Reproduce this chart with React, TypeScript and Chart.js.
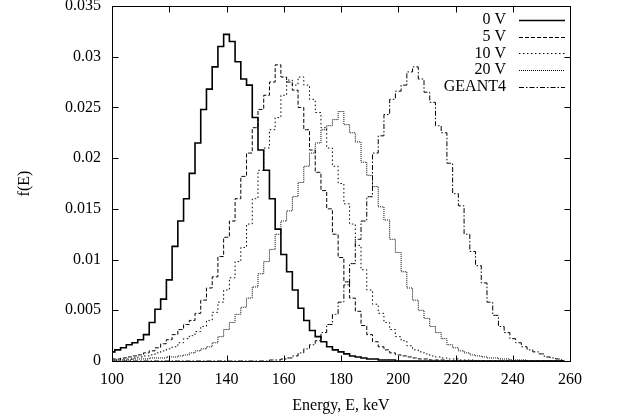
import React, { useEffect, useRef } from "react";
import { Chart, registerables } from "chart.js";
Chart.register(...registerables);

const energy = [
  100, 102, 104, 106, 108, 110, 112, 114, 116, 118, 120, 122, 124, 126, 128, 130, 132, 134, 136, 138,
  140, 142, 144, 146, 148, 150, 152, 154, 156, 158, 160, 162, 164, 166, 168, 170, 172, 174, 176, 178,
  180, 182, 184, 186, 188, 190, 192, 194, 196, 198, 200, 202, 204, 206, 208, 210, 212, 214, 216, 218,
  220, 222, 224, 226, 228, 230, 232, 234, 236, 238, 240, 242, 244, 246, 248, 250, 252, 254, 256, 258,
];

const v0 = [
  0.0009, 0.0011, 0.0013, 0.0016, 0.0018, 0.0021, 0.0026, 0.0038, 0.0051, 0.0061,
  0.0080, 0.0113, 0.0138, 0.0160, 0.0185, 0.0215, 0.0248, 0.0268, 0.0290, 0.0310,
  0.0322, 0.0315, 0.0295, 0.0278, 0.0272, 0.0240, 0.0208, 0.0188, 0.0160, 0.0130,
  0.0105, 0.0088, 0.0070, 0.0052, 0.0040, 0.0030, 0.0024, 0.0019, 0.0014, 0.0011,
  0.0009, 0.0007, 0.0005, 0.0004, 0.0003, 0.0002, 0.0002, 0.0001, 0.0001, 0.0001,
  0, 0, 0, 0, 0, 0, 0, 0, 0, 0,
  0, 0, 0, 0, 0, 0, 0, 0, 0, 0,
  0, 0, 0, 0, 0, 0, 0, 0, 0, 0,
];

const v5 = [
  0.0002, 0.0002, 0.0003, 0.0004, 0.0005, 0.0006, 0.0008, 0.0010, 0.0013, 0.0017,
  0.0021, 0.0026, 0.0031, 0.0036, 0.0040, 0.0047, 0.0060, 0.0072, 0.0083, 0.0103,
  0.0122, 0.0138, 0.0160, 0.0182, 0.0205, 0.0230, 0.0248, 0.0262, 0.0275, 0.0292,
  0.0280, 0.0275, 0.0267, 0.0250, 0.0228, 0.0208, 0.0186, 0.0168, 0.0150, 0.0125,
  0.0102, 0.0078, 0.0062, 0.0049, 0.0035, 0.0026, 0.0019, 0.0014, 0.0011, 0.0008,
  0.0006, 0.0005, 0.0004, 0.0003, 0.0002, 0.0002, 0.0001, 0.0001, 0.0001, 0,
  0, 0, 0, 0, 0, 0, 0, 0, 0, 0,
  0, 0, 0, 0, 0, 0, 0, 0, 0, 0,
];

const v10 = [
  0.0001, 0.0001, 0.0002, 0.0002, 0.0003, 0.0004, 0.0005, 0.0006, 0.0008, 0.0010,
  0.0012, 0.0014, 0.0018, 0.0022, 0.0025, 0.0029, 0.0034, 0.0040, 0.0048, 0.0058,
  0.0070, 0.0082, 0.0098, 0.0112, 0.0135, 0.0160, 0.0188, 0.0210, 0.0228, 0.0240,
  0.0262, 0.0277, 0.0272, 0.0280, 0.0272, 0.0258, 0.0245, 0.0230, 0.0210, 0.0192,
  0.0175, 0.0155, 0.0135, 0.0114, 0.0090, 0.0070, 0.0056, 0.0047, 0.0038, 0.0031,
  0.0024, 0.0020, 0.0015, 0.0011, 0.0009, 0.0007, 0.0005, 0.0004, 0.0003, 0.0002,
  0.0002, 0.0001, 0.0001, 0.0001, 0, 0, 0, 0, 0, 0,
  0, 0, 0, 0, 0, 0, 0, 0, 0, 0,
];

const v20 = [
  0.0001, 0.0001, 0.0001, 0.0001, 0.0002, 0.0002, 0.0002, 0.0003, 0.0003, 0.0003,
  0.0004, 0.0004, 0.0005, 0.0006, 0.0008, 0.0010, 0.0012, 0.0014, 0.0018, 0.0024,
  0.0031, 0.0038, 0.0046, 0.0053, 0.0062, 0.0073, 0.0086, 0.0098, 0.0110, 0.0125,
  0.0138, 0.0148, 0.0162, 0.0176, 0.0192, 0.0205, 0.0215, 0.0228, 0.0232, 0.0238,
  0.0246, 0.0233, 0.0225, 0.0216, 0.0196, 0.0183, 0.0172, 0.0152, 0.0139, 0.0120,
  0.0107, 0.0088, 0.0072, 0.0060, 0.0050, 0.0042, 0.0034, 0.0028, 0.0022, 0.0016,
  0.0013, 0.0010, 0.0008, 0.0006, 0.0005, 0.0004, 0.0003, 0.0003, 0.0002, 0.0002,
  0.0001, 0.0001, 0.0001, 0, 0, 0, 0, 0, 0, 0,
];

const vGeant = [
  0, 0, 0, 0, 0, 0, 0, 0, 0, 0,
  0, 0, 0, 0, 0, 0, 0, 0, 0, 0,
  0, 0, 0, 0, 0, 0, 0, 0, 0.0001, 0.0001,
  0.0002, 0.0003, 0.0005, 0.0008, 0.0012, 0.0016, 0.0020, 0.0028, 0.0036, 0.0046,
  0.0058, 0.0075, 0.0096, 0.0120, 0.0138, 0.0162, 0.0205, 0.0222, 0.0243, 0.0258,
  0.0266, 0.0272, 0.0285, 0.0290, 0.0278, 0.0265, 0.0255, 0.0232, 0.0225, 0.0195,
  0.0165, 0.0153, 0.0125, 0.0108, 0.0094, 0.0077, 0.0058, 0.0045, 0.0034, 0.0028,
  0.0022, 0.0018, 0.0014, 0.0011, 0.0009, 0.0007, 0.0004, 0.0003, 0.0002, 0.0001,
];

const seriesLabels = ["0 V", "5 V", "10 V", "20 V", "GEANT4"];
const seriesValues = [v0, v5, v10, v20, vGeant];
const seriesDash = [[], [4, 2], [1.5, 2.5], [1, 1], [5, 2, 1.5, 2]];
const seriesWidth = [1.6, 1, 1, 1, 1];

const FONT_FAMILY = "'Liberation Serif', 'Times New Roman', serif";

const framePlugin = {
  id: "gnuFrame",
  afterDatasetsDraw(chart: any) {
    const { ctx, chartArea: a, scales } = chart;
    ctx.save();
    ctx.strokeStyle = "#000";
    ctx.lineWidth = 1;
    ctx.setLineDash([]);
    const L = 6;
    const line = (x1: number, y1: number, x2: number, y2: number) => {
      ctx.beginPath();
      ctx.moveTo(x1, y1);
      ctx.lineTo(x2, y2);
      ctx.stroke();
    };
    const l = Math.round(a.left) + 0.5;
    const r = Math.round(a.right) + 0.5;
    const t = Math.round(a.top) + 0.5;
    const b = Math.round(a.bottom) + 0.5;
    ctx.strokeRect(l, t, r - l, b - t);
    scales.x.ticks.forEach((tk: any) => {
      const px = Math.round(scales.x.getPixelForValue(tk.value)) + 0.5;
      line(px, b, px, b - L);
      line(px, t, px, t + L);
    });
    scales.y.ticks.forEach((tk: any) => {
      const py = Math.round(scales.y.getPixelForValue(tk.value)) + 0.5;
      line(l, py, l + L, py);
      line(r, py, r - L, py);
    });
    // legend (gnuplot style, top right inside the frame)
    ctx.font = `16px ${FONT_FAMILY}`;
    ctx.fillStyle = "#000";
    ctx.textAlign = "right";
    ctx.textBaseline = "middle";
    chart.data.datasets.forEach((ds: any, i: number) => {
      const y = 20 + i * 16.7;
      ctx.fillText(ds.label, 506, y);
      ctx.save();
      ctx.strokeStyle = ds.borderColor;
      ctx.lineWidth = ds.borderWidth;
      ctx.setLineDash(ds.borderDash || []);
      const yy = Math.round(y) + 0.5;
      line(519, yy, 565, yy);
      ctx.restore();
    });
    ctx.restore();
  },
};

export default function App() {
  const ref = useRef<HTMLCanvasElement | null>(null);
  useEffect(() => {
    if (!ref.current) return;
    const font = { family: FONT_FAMILY, size: 16 };
    const chart = new Chart(ref.current, {
      type: "line",
      data: {
        datasets: seriesLabels.map((label, i) => ({
          label,
          data: energy.map((e, j) => ({ x: e, y: seriesValues[i][j] })),
          borderColor: "#000",
          borderWidth: seriesWidth[i],
          borderDash: seriesDash[i],
          pointRadius: 0,
          fill: false,
          stepped: "middle" as const,
          tension: 0,
        })),
      },
      options: {
        animation: false,
        responsive: false,
        maintainAspectRatio: false,
        layout: { padding: { left: 0, right: 50, top: 6, bottom: 0 } },
        plugins: { legend: { display: false }, tooltip: { enabled: false } },
        scales: {
          x: {
            type: "linear",
            min: 100,
            max: 260,
            ticks: { stepSize: 20, font, color: "#000", padding: 9, maxRotation: 0, autoSkip: false },
            grid: { display: false, drawTicks: false },
            border: { display: false },
            title: { display: true, text: "Energy, E, keV", font, color: "#000", padding: { top: 0, bottom: 4 } },
            afterFit: (s: any) => {
              s.height = 58;
              s.paddingLeft = 0;
              s.paddingRight = 0;
            },
          },
          y: {
            min: 0,
            max: 0.035,
            ticks: {
              stepSize: 0.005,
              font,
              color: "#000",
              padding: 11,
              callback: (v: any) => String(+Number(v).toFixed(3)),
            },
            grid: { display: false, drawTicks: false },
            border: { display: false },
            title: { display: true, text: "f(E)", font, color: "#000", padding: { top: 15, bottom: 0 } },
            afterFit: (s: any) => {
              s.width = 112;
              s.paddingTop = 0;
              s.paddingBottom = 0;
            },
          },
        },
      },
      plugins: [framePlugin],
    } as any);
    return () => chart.destroy();
  }, []);
  return (
    <div style={{ position: "fixed", left: 0, top: 0, width: 620, height: 419, background: "#fff" }}>
      <canvas ref={ref} width={620} height={419} style={{ width: 620, height: 419, display: "block" }} />
    </div>
  );
}
